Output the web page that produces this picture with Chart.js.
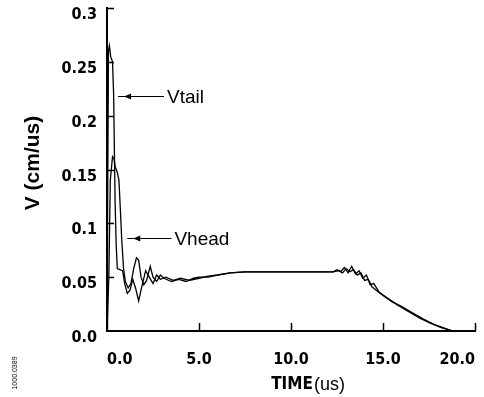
<!DOCTYPE html>
<html>
<head>
<meta charset="utf-8">
<script src="https://cdn.jsdelivr.net/npm/chart.js@4"></script>
<style>
  body { margin: 0; background: #fff; }
  #wrap { width: 484px; height: 397px; position: relative; }
</style>
</head>
<body>
<div id="wrap"><canvas id="velChart"></canvas></div>
<script>
// Vtail : vitesse de la queue (cm/us) en fonction du temps (us)
const tailTime = [0, 0.03, 0.08, 0.13, 0.2, 0.3, 0.36, 0.4, 0.44, 0.5, 0.56, 0.7, 0.85, 0.95, 1.1, 1.25, 1.4, 1.55, 1.72, 1.9, 2.1, 2.3, 2.5, 2.7, 2.9, 3.2, 3.6, 4.0, 4.5, 5.0, 5.5, 6.0, 6.7, 7.5, 8.5, 9.5, 10.5, 11.5, 12.3, 12.6, 12.8, 13.0, 13.2, 13.4, 13.6, 13.8, 14.0, 14.2, 14.4, 14.7, 15.0, 15.5, 16.0, 16.6, 17.2, 17.8, 18.3, 18.8, 20]
const tailVel = [0, 0.1, 0.26, 0.265, 0.255, 0.25, 0.22, 0.17, 0.12, 0.08, 0.058, 0.057, 0.056, 0.045, 0.035, 0.038, 0.048, 0.04, 0.028, 0.042, 0.056, 0.05, 0.044, 0.052, 0.048, 0.05, 0.047, 0.049, 0.047, 0.049, 0.051, 0.052, 0.054, 0.055, 0.055, 0.055, 0.055, 0.055, 0.055, 0.056, 0.054, 0.058, 0.055, 0.057, 0.052, 0.054, 0.047, 0.048, 0.041, 0.037, 0.033, 0.027, 0.023, 0.017, 0.011, 0.006, 0.003, 0, 0]

// Vhead : vitesse de la tête
const headTime = [0, 0.1, 0.18, 0.3, 0.38, 0.45, 0.55, 0.65, 0.72, 0.8, 0.9, 1.0, 1.15, 1.3, 1.45, 1.6, 1.72, 1.85, 2.0, 2.15, 2.35, 2.5, 2.7, 2.9, 3.1, 3.5, 3.9, 4.3, 4.7, 5.0, 5.5, 6.0, 6.7, 7.5, 8.5, 9.5, 10.5, 11.5, 12.3, 12.5, 12.7, 12.9, 13.1, 13.3, 13.5, 13.7, 13.9, 14.1, 14.3, 14.5, 14.8, 15.2, 15.8, 16.4, 17.0, 17.6, 18.2, 18.8, 20]
const headVel = [0, 0.05, 0.14, 0.162, 0.16, 0.152, 0.148, 0.14, 0.115, 0.085, 0.058, 0.046, 0.04, 0.044, 0.058, 0.068, 0.066, 0.05, 0.043, 0.047, 0.06, 0.05, 0.046, 0.052, 0.049, 0.046, 0.048, 0.046, 0.049, 0.05, 0.05, 0.052, 0.054, 0.055, 0.055, 0.055, 0.055, 0.055, 0.055, 0.057, 0.055, 0.059, 0.054, 0.06, 0.053, 0.056, 0.049, 0.052, 0.043, 0.044, 0.036, 0.031, 0.024, 0.018, 0.012, 0.007, 0.003, 0, 0]

const xTickLabels = ["0.0", "5.0", "10.0", "15.0", "20.0"]
const yTickLabels = ["0.0", "0.05", "0.1", "0.15", "0.2", "0.25", "0.3"]

const narrowFamily = "'DejaVu Sans Condensed', sans-serif"
const tickFont = { family: narrowFamily, weight: "bold", size: 16 }

function toPoints(times, values) {
  return times.map((t, i) => ({ x: t, y: values[i] }))
}

// petites graduations vers l'intérieur, flèches et textes
const decorPlugin = {
  id: "decor",
  afterDraw(chart) {
    const { ctx } = chart
    const x = chart.scales.x
    const y = chart.scales.y
    ctx.save()
    ctx.strokeStyle = "#000"
    ctx.fillStyle = "#000"
    ctx.lineWidth = 1.5

    ctx.beginPath()
    y.ticks.forEach((t) => {
      if (t.value <= 0) return
      const py = Math.round(y.getPixelForValue(t.value)) + 0.5
      ctx.moveTo(x.left, py)
      ctx.lineTo(x.left + 7, py)
    })
    x.ticks.forEach((t) => {
      if (t.value <= 0) return
      const px = Math.round(x.getPixelForValue(t.value)) + 0.5
      ctx.moveTo(px, y.bottom)
      ctx.lineTo(px, y.bottom - 8)
    })
    ctx.stroke()

    // flèches d'annotation
    const arrows = [
      { text: "Vtail", tip: [0.6, 0.218], end: [3.1, 0.218] },
      { text: "Vhead", tip: [1.1, 0.086], end: [3.5, 0.086] },
    ]
    ctx.font = "19px 'Liberation Sans'"
    ctx.textBaseline = "middle"
    ctx.textAlign = "left"
    arrows.forEach((a) => {
      const x0 = x.getPixelForValue(a.tip[0])
      const x1 = x.getPixelForValue(a.end[0])
      const py = Math.round(y.getPixelForValue(a.tip[1])) + 0.5
      ctx.lineWidth = 1.2
      ctx.beginPath()
      ctx.moveTo(x0, py)
      ctx.lineTo(x1, py)
      ctx.stroke()
      ctx.beginPath()
      ctx.moveTo(x0 + 6, py)
      ctx.lineTo(x0 + 13, py - 3)
      ctx.lineTo(x0 + 13, py + 3)
      ctx.closePath()
      ctx.fill()
      ctx.fillText(a.text, x1 + 3, py + 1)
    })

    // titre de l'axe x
    const cx = x.getPixelForValue(10.9)
    const timeFont = "bold 17px " + narrowFamily
    const unitFont = "18px 'Liberation Sans'"
    ctx.textBaseline = "middle"
    ctx.font = timeFont
    const w1 = ctx.measureText("TIME").width
    ctx.font = unitFont
    const w2 = ctx.measureText("(us)").width
    const sx = cx - (w1 + w2) / 2
    ctx.font = timeFont
    ctx.fillText("TIME", sx, 385)
    ctx.font = unitFont
    ctx.fillText("(us)", sx + w1 + 1, 385)

    // titre de l'axe y
    ctx.save()
    ctx.translate(33, 163)
    ctx.rotate(-Math.PI / 2)
    ctx.textAlign = "center"
    ctx.font = "bold 21px 'Liberation Sans'"
    ctx.fillText("V (cm/us)", 0, 0)
    ctx.restore()

    // référence de la figure
    ctx.save()
    ctx.translate(15, 373)
    ctx.rotate(-Math.PI / 2)
    ctx.textAlign = "center"
    ctx.font = "7px 'Liberation Sans'"
    ctx.fillText("1000.0389", 0, 0)
    ctx.restore()

    ctx.restore()
  },
}

new Chart(document.getElementById("velChart"), {
  type: "line",
  data: {
    datasets: [
      {
        label: "Vtail",
        data: toPoints(tailTime, tailVel),
        borderColor: "#000",
        borderWidth: 1.3,
        pointRadius: 0,
        tension: 0,
      },
      {
        label: "Vhead",
        data: toPoints(headTime, headVel),
        borderColor: "#000",
        borderWidth: 1.3,
        pointRadius: 0,
        tension: 0,
      },
    ],
  },
  options: {
    responsive: true,
    maintainAspectRatio: false,
    animation: false,
    layout: { padding: { top: 8, right: 9, left: 0, bottom: 0 } },
    plugins: {
      legend: { display: false },
      tooltip: { enabled: false },
    },
    scales: {
      x: {
        type: "linear",
        min: 0,
        max: 20,
        grid: { display: false, drawTicks: false },
        border: { display: true, color: "#000", width: 2 },
        ticks: {
          stepSize: 5,
          autoSkip: false,
          maxRotation: 0,
          align: "inner",
          padding: 19,
          labelOffset: 0,
          color: "#000",
          font: tickFont,
          callback: (value, index) => xTickLabels[index],
        },
        afterFit: (scale) => {
          scale.height = 66
          scale.paddingLeft = 0
          scale.paddingRight = 0
        },
      },
      y: {
        min: 0,
        max: 0.3,
        grid: { display: false, drawTicks: false },
        border: { display: true, color: "#000", width: 2 },
        ticks: {
          stepSize: 0.05,
          autoSkip: false,
          padding: 10,
          labelOffset: 7,
          color: "#000",
          font: tickFont,
          callback: (value, index) => yTickLabels[index],
        },
        afterFit: (scale) => {
          scale.width = 107
          scale.paddingTop = 0
          scale.paddingBottom = 0
        },
      },
    },
  },
  plugins: [decorPlugin],
})
</script>
</body>
</html>
